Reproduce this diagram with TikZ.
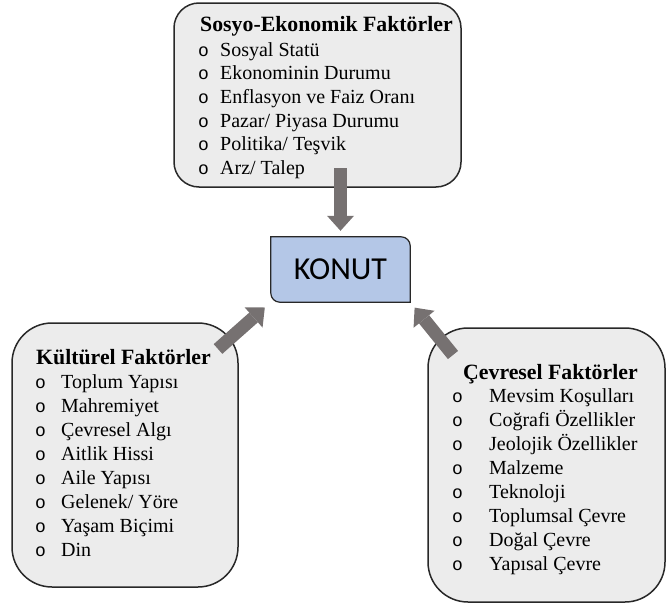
\documentclass[tikz,border=0pt]{standalone}
\usepackage{fontspec}
\setmainfont{Liberation Serif}
\setsansfont{Carlito}
\newfontfamily\bulfont{Liberation Mono}
\usetikzlibrary{arrows.meta,backgrounds}

\definecolor{boxgray}{RGB}{236,236,236}
\definecolor{framegray}{RGB}{40,40,40}
\definecolor{konutblue}{RGB}{180,199,231}
\definecolor{arrowgray}{RGB}{118,113,113}

% bullet: shift, then width up to the text
\newcommand{\bul}[2]{\hspace*{#1}\makebox[#2][l]{{\bulfont\fontsize{18}{24}\selectfont\hspace{1pt}o}}}
\newcommand{\boxtitle}[1]{{\fontsize{21.8}{24}\selectfont\bfseries #1}}

\begin{document}
\begin{tikzpicture}[x=1pt,y=-1pt,
    factorbox/.style={draw=framegray,line width=1.5pt,fill=boxgray,rounded corners=#1,inner sep=0pt},
    listtext/.style={align=left,inner sep=0pt,anchor=north west,font=\fontsize{20}{24}\selectfont},
    blockarrow/.style={draw=arrowgray,line width=13pt,-{Triangle[width=27pt,length=15pt,line width=0pt]}}]
    \useasboundingbox (0,0) rectangle (667,605);

    % the three groups of factors
    \node[factorbox=25pt,minimum width=287pt,minimum height=184pt] (sosyo) at (317.5,95) {};
    \node[factorbox=40pt,minimum width=226pt,minimum height=264pt] (kultur) at (125,455) {};
    \node[factorbox=40pt,minimum width=237pt,minimum height=274pt] (cevre) at (546.5,465) {};

    \node[listtext,font=\fontsize{20}{23.6}\selectfont] (sosyolist) at (200,16) {\boxtitle{Sosyo-Ekonomik Faktörler}\\[1.4pt]
        \bul{-3pt}{23pt}Sosyal Statü\\
        \bul{-3pt}{23pt}Ekonominin Durumu\\
        \bul{-3pt}{23pt}Enflasyon ve Faiz Oranı\\
        \bul{-3pt}{23pt}Pazar/ Piyasa Durumu\\
        \bul{-3pt}{23pt}Politika/ Teşvik\\
        \bul{-3pt}{23pt}Arz/ Talep};
    \node[listtext] (kulturlist) at (36,349) {\boxtitle{Kültürel Faktörler}\\
        \bul{-2pt}{27pt}Toplum Yapısı\\
        \bul{-2pt}{27pt}Mahremiyet\\
        \bul{-2pt}{27pt}Çevresel Algı\\
        \bul{-2pt}{27pt}Aitlik Hissi\\
        \bul{-2pt}{27pt}Aile Yapısı\\
        \bul{-2pt}{27pt}Gelenek/ Yöre\\
        \bul{-2pt}{27pt}Yaşam Biçimi\\
        \bul{-2pt}{27pt}Din};
    \node[listtext] (cevrelist) at (463,364) {\boxtitle{Çevresel Faktörler}\\[-1pt]
        \bul{-12pt}{38pt}Mevsim Koşulları\\
        \bul{-12pt}{38pt}Coğrafi Özellikler\\
        \bul{-12pt}{38pt}Jeolojik Özellikler\\
        \bul{-12pt}{38pt}Malzeme\\
        \bul{-12pt}{38pt}Teknoloji\\
        \bul{-12pt}{38pt}Toplumsal Çevre\\
        \bul{-12pt}{38pt}Doğal Çevre\\
        \bul{-12pt}{38pt}Yapısal Çevre};

    % centre box
    \node[inner sep=0pt,minimum width=139pt,minimum height=65pt,font=\sffamily\fontsize{32}{36}\selectfont] (konut) at (340.5,269.5) {KONUT};
    \begin{scope}[on background layer]
        \draw[fill=konutblue,draw=framegray,line width=1.2pt] (konut.south west) [sharp corners] -- (konut.north west) [rounded corners=9pt] -- (konut.north east) [sharp corners] -- (konut.south east) [rounded corners=9pt] -- cycle;
    \end{scope}

    % arrows into the centre
    \coordinate (sosyoout) at (340.5,168);
    \coordinate (kulturout) at (218,349);
    \coordinate (cevreout) at (453,355);
    \draw[blockarrow,shorten >=6pt] (sosyoout) -- (konut.north);
    \draw[blockarrow,shorten >=8pt] (kulturout) -- (konut.south west);
    \draw[blockarrow,shorten >=7pt] (cevreout) -- (konut.south east);
\end{tikzpicture}
\end{document}
